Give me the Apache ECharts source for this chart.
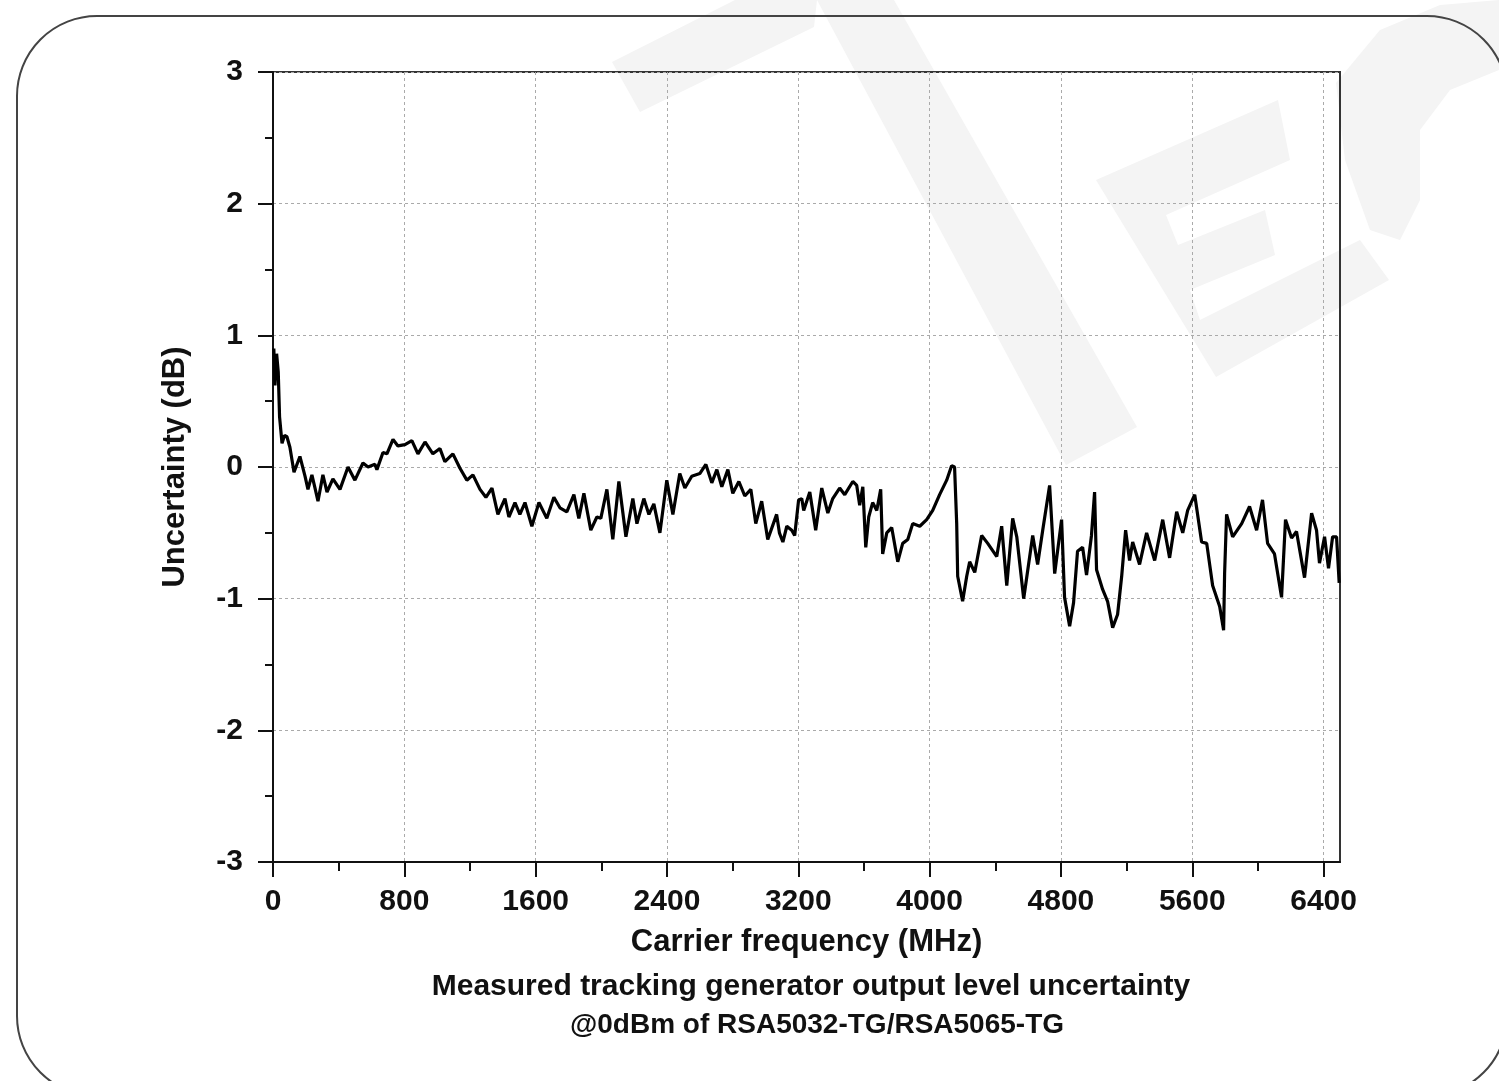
<!DOCTYPE html>
<html>
<head>
<meta charset="utf-8">
<script src="https://cdn.jsdelivr.net/npm/echarts@6/dist/echarts.min.js"></script>
<style>
html,body{margin:0;padding:0;background:#fff;}
#chart{width:1499px;height:1081px;}
</style>
</head>
<body>
<div id="chart"></div>
<script>
// Data
const freqMHz = [5,12,22,32,40,55,70,85,103,128,164,195,213,237,256,274,304,329,365,408,457,499,548,579,621,633,670,694,731,761,804,846,883,926,974,1017,1047,1096,1139,1181,1218,1261,1297,1334,1370,1413,1437,1474,1504,1535,1577,1620,1668,1711,1748,1790,1833,1863,1894,1936,1973,1997,2034,2070,2107,2150,2192,2217,2259,2290,2320,2357,2399,2436,2478,2509,2551,2600,2637,2673,2704,2734,2771,2801,2838,2874,2911,2941,2977,3014,3068,3085,3106,3130,3160,3178,3202,3221,3233,3270,3306,3343,3380,3410,3452,3483,3532,3556,3574,3593,3611,3629,3653,3678,3702,3714,3739,3769,3806,3836,3867,3897,3940,3982,4019,4061,4104,4134,4152,4165,4171,4201,4226,4244,4275,4317,4354,4409,4439,4470,4506,4531,4573,4628,4658,4689,4731,4762,4804,4822,4853,4877,4901,4932,4956,4986,5005,5017,5054,5084,5115,5145,5170,5194,5218,5237,5279,5322,5371,5420,5462,5505,5542,5572,5615,5657,5688,5724,5767,5791,5797,5809,5846,5901,5949,5992,6028,6059,6101,6144,6168,6205,6235,6284,6327,6357,6375,6406,6430,6455,6479,6495];
const uncertaintyDB = [0.90,0.62,0.86,0.72,0.38,0.18,0.24,0.23,0.15,-0.04,0.08,-0.07,-0.17,-0.06,-0.16,-0.26,-0.06,-0.19,-0.09,-0.17,0.00,-0.10,0.03,0.00,0.02,-0.02,0.11,0.10,0.21,0.16,0.17,0.20,0.10,0.19,0.10,0.14,0.04,0.10,-0.01,-0.10,-0.06,-0.17,-0.23,-0.16,-0.36,-0.24,-0.38,-0.27,-0.36,-0.27,-0.45,-0.27,-0.39,-0.23,-0.31,-0.34,-0.21,-0.39,-0.20,-0.48,-0.38,-0.39,-0.17,-0.55,-0.11,-0.53,-0.24,-0.43,-0.24,-0.36,-0.28,-0.50,-0.10,-0.36,-0.05,-0.16,-0.07,-0.05,0.02,-0.12,-0.02,-0.15,-0.02,-0.20,-0.11,-0.22,-0.17,-0.43,-0.26,-0.55,-0.36,-0.50,-0.57,-0.45,-0.48,-0.52,-0.25,-0.24,-0.33,-0.19,-0.48,-0.16,-0.35,-0.24,-0.16,-0.21,-0.11,-0.14,-0.29,-0.15,-0.61,-0.38,-0.27,-0.33,-0.17,-0.66,-0.50,-0.46,-0.72,-0.58,-0.55,-0.43,-0.45,-0.40,-0.33,-0.21,-0.10,0.01,0.00,-0.43,-0.83,-1.02,-0.83,-0.72,-0.80,-0.52,-0.58,-0.68,-0.45,-0.90,-0.39,-0.53,-1.00,-0.52,-0.74,-0.48,-0.14,-0.81,-0.40,-0.99,-1.21,-1.03,-0.64,-0.61,-0.82,-0.52,-0.19,-0.78,-0.93,-1.02,-1.22,-1.12,-0.83,-0.48,-0.71,-0.57,-0.74,-0.50,-0.71,-0.40,-0.69,-0.34,-0.50,-0.33,-0.21,-0.57,-0.58,-0.90,-1.06,-1.24,-0.81,-0.36,-0.53,-0.43,-0.30,-0.48,-0.25,-0.58,-0.66,-0.99,-0.40,-0.54,-0.49,-0.84,-0.35,-0.48,-0.73,-0.53,-0.77,-0.53,-0.53,-0.88];
const xMajorTicks = [0,800,1600,2400,3200,4000,4800,5600,6400];
const xMinorTicks = [400,1200,2000,2800,3600,4400,5200,6000];
const xLabels = ['0','800','1600','2400','3200','4000','4800','5600','6400'];
const yTicks = [-3,-2,-1,0,1,2,3];
const xAxisName = 'Carrier frequency (MHz)';
const yAxisName = 'Uncertainty (dB)';
const titleLine1 = 'Measured tracking generator output level uncertainty';
const titleLine2 = '@0dBm of RSA5032-TG/RSA5065-TG';

const seriesData = freqMHz.map((f, i) => [f, uncertaintyDB[i]]);
const FONT = '"Liberation Sans", Arial, sans-serif';
const wm = '#f4f4f4';

const chart = echarts.init(document.getElementById('chart'), null, {renderer: 'canvas'});
chart.setOption({
  backgroundColor: '#ffffff',
  animation: false,
  graphic: [
    {type: 'polygon', z: -10, shape: {points: [[612,62],[735,0],[817,0],[814,27],[640,112]]}, style: {fill: wm}},
    {type: 'polygon', z: -10, shape: {points: [[817,0],[894,0],[1137,427],[1066,465]]}, style: {fill: wm}},
    {type: 'polygon', z: -10, shape: {points: [[1096,180],[1278,100],[1290,160],[1166,215],[1178,245],[1265,210],[1275,255],[1190,290],[1200,320],[1360,240],[1389,280],[1216,377]]}, style: {fill: wm}},
    {type: 'polygon', z: -10, shape: {points: [[1336,83],[1380,30],[1440,5],[1499,0],[1499,70],[1450,90],[1420,130],[1420,200],[1400,240],[1370,230],[1345,160]]}, style: {fill: wm}},
    {type: 'rect', z: -5, shape: {x: 17, y: 16, width: 1490, height: 1080, r: 80}, style: {fill: 'none', stroke: '#444', lineWidth: 2}}
  ],
  title: [
    {text: titleLine1, left: 806, top: 967, textAlign: 'center', textStyle: {fontFamily: FONT, fontWeight: 'bold', fontSize: 30, color: '#111'}},
    {text: titleLine2, left: 812, top: 1006, textAlign: 'center', textStyle: {fontFamily: FONT, fontWeight: 'bold', fontSize: 28, color: '#111'}}
  ],
  grid: {left: 273, top: 72, right: 159, bottom: 219, show: true, borderColor: '#333', borderWidth: 2, backgroundColor: 'transparent', containLabel: false},
  xAxis: [
    {
      type: 'value', min: 0, max: 6500,
      name: xAxisName, nameLocation: 'middle', nameGap: 65,
      nameTextStyle: {fontFamily: FONT, fontWeight: 'bold', fontSize: 31, color: '#111'},
      axisLine: {show: true, onZero: false, lineStyle: {color: '#111', width: 2}},
      axisTick: {show: true, length: 15, lineStyle: {color: '#111', width: 2}, customValues: xMajorTicks},
      axisLabel: {show: true, margin: 25, fontFamily: FONT, fontWeight: 'bold', fontSize: 30, color: '#111',
        customValues: xMajorTicks, formatter: v => xLabels[xMajorTicks.indexOf(v)] ?? ''},
      splitLine: {show: true, lineStyle: {color: '#aaa', width: 1, type: [3, 3]}}
    },
    {
      type: 'value', min: 0, max: 6500, gridIndex: 0, position: 'bottom',
      axisLine: {show: false, onZero: false},
      axisTick: {show: true, length: 9, lineStyle: {color: '#111', width: 2}, customValues: xMinorTicks},
      axisLabel: {show: false},
      splitLine: {show: false}
    }
  ],
  yAxis: {
    type: 'value', min: -3, max: 3, interval: 1,
    name: yAxisName, nameLocation: 'middle', nameGap: 82,
    nameTextStyle: {fontFamily: FONT, fontWeight: 'bold', fontSize: 31, color: '#111'},
    axisLine: {show: true, onZero: false, lineStyle: {color: '#111', width: 2}},
    axisTick: {show: true, length: 15, lineStyle: {color: '#111', width: 2}},
    minorTick: {show: true, splitNumber: 2, length: 8, lineStyle: {color: '#111', width: 2}},
    axisLabel: {show: true, margin: 30, fontFamily: FONT, fontWeight: 'bold', fontSize: 30, color: '#111',
      formatter: v => (yTicks.indexOf(v) >= 0 ? String(v) : '')},
    splitLine: {show: true, lineStyle: {color: '#aaa', width: 1, type: [3, 3]}}
  },
  series: [{
    type: 'line', xAxisIndex: 0, data: seriesData, showSymbol: false, symbol: 'none',
    lineStyle: {color: '#000', width: 3.2}, z: 5, clip: true
  }]
});
</script>
</body>
</html>
